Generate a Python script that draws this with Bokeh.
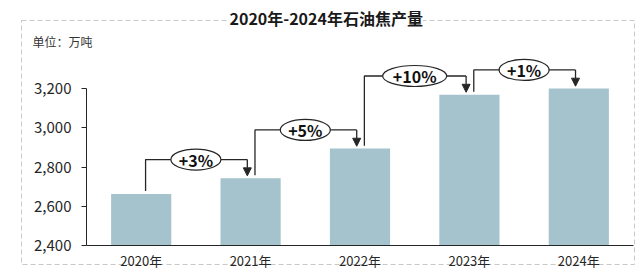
from bokeh.plotting import figure
from bokeh.models import (FactorRange, Range1d, NumeralTickFormatter, Title,
                          Arrow, NormalHead, ColumnDataSource)
from bokeh.core.properties import value
from bokeh.embed import file_html
from bokeh.resources import INLINE

years = ["2020年", "2021年", "2022年", "2023年", "2024年"]
output = [2663, 2743, 2894, 3169, 3200]
growth_labels = ["+3%", "+5%", "+10%", "+1%"]
y_ticks = [2400, 2600, 2800, 3000, 3200]
title_text = "2020年-2024年石油焦产量"
unit_text = "单位：万吨"

FONT = "Noto Sans CJK SC"
BAR = "#a5c3cd"
DARK = "#262626"

border_svg = ("url(\"data:image/svg+xml;utf8,<svg xmlns='http://www.w3.org/2000/svg' "
              "width='640' height='273'><rect x='21.5' y='20.5' width='613' height='244' "
              "fill='none' stroke='%23c8c8c8' stroke-width='1' stroke-dasharray='5 3'/></svg>\")")

p = figure(width=640, height=273, x_range=FactorRange(*years),
           y_range=Range1d(2400, 3394), output_backend="svg",
           toolbar_location=None, min_border_left=86, min_border_right=7,
           min_border_top=50, min_border_bottom=28)
p.styles = {"background-color": "white", "background-image": border_svg,
            "background-repeat": "no-repeat"}
p.outline_line_color = None
p.xgrid.grid_line_color = None
p.ygrid.grid_line_color = None
p.background_fill_color = None
p.border_fill_color = None

p.vbar(x=years, top=output, bottom=2400, width=0.55, color=BAR, line_color=None)

# axes
p.yaxis.ticker = y_ticks
p.yaxis.bounds = (y_ticks[0], y_ticks[-1])
p.yaxis.formatter = NumeralTickFormatter(format="0,0")
p.yaxis.major_tick_in = 0
p.yaxis.major_tick_out = 5
p.yaxis.minor_tick_line_color = None
p.yaxis.major_label_standoff = 10
p.yaxis.axis_line_color = DARK
p.yaxis.major_tick_line_color = DARK
p.yaxis.major_label_text_font = FONT
p.yaxis.major_label_text_font_size = "15px"
p.yaxis.major_label_text_color = DARK

p.xaxis.major_tick_line_color = None
p.xaxis.major_tick_out = 0
p.xaxis.major_tick_in = 0
p.xaxis.axis_line_color = DARK
p.xaxis.major_label_standoff = 5
p.xaxis.major_label_text_font = FONT
p.xaxis.major_label_text_font_size = "13px"
p.xaxis.major_label_text_color = DARK

# growth connectors
xs_l, xs_r, xs_m, levels, tips, starts = [], [], [], [], [], []
for i in range(len(growth_labels)):
    xs_l.append(i + 0.5 + 0.04)
    xs_r.append(i + 1.5 - 0.03)
    xs_m.append(i + 1.0)
    levels.append(output[i + 1] + 95)
    starts.append(output[i] + 15)
    tips.append(output[i + 1] + 12)

p.multi_line(xs=[[a, a, b] for a, b in zip(xs_l, xs_r)],
             ys=[[s, l, l] for s, l in zip(starts, levels)],
             line_color=DARK, line_width=1.3)
for xr, lvl, tp in zip(xs_r, levels, tips):
    p.add_layout(Arrow(end=NormalHead(size=8, fill_color=DARK, line_color=DARK),
                       x_start=xr, y_start=lvl, x_end=xr, y_end=tp,
                       line_color=DARK, line_width=1.3))

widths = [50 + 14 * (len(s) - 3) for s in growth_labels]
src = ColumnDataSource(dict(x=xs_m, y=levels, w=widths, t=growth_labels))
p.ellipse(x="x", y="y", width="w", height=21, width_units="screen",
          height_units="screen", source=src, fill_color="white",
          line_color=DARK, line_width=1.2)
p.text(x="x", y="y", text="t", source=src, text_font=value(FONT),
       text_font_style="bold", text_font_size="16px", text_align="center",
       text_baseline="middle", text_color="#111111")

# title and unit
p.add_layout(Title(text=unit_text, text_font=FONT, text_font_size="12px",
                   text_font_style="normal", text_color="#333333",
                   align="left", offset=-54, standoff=2), "above")
p.add_layout(Title(text=title_text, text_font=FONT, text_font_size="16px",
                   text_font_style="bold", text_color="#1a1a1a",
                   align="left", offset=143, standoff=0,
                   background_fill_color="white"), "above")

open("out.html", "w").write(file_html(p, INLINE))
